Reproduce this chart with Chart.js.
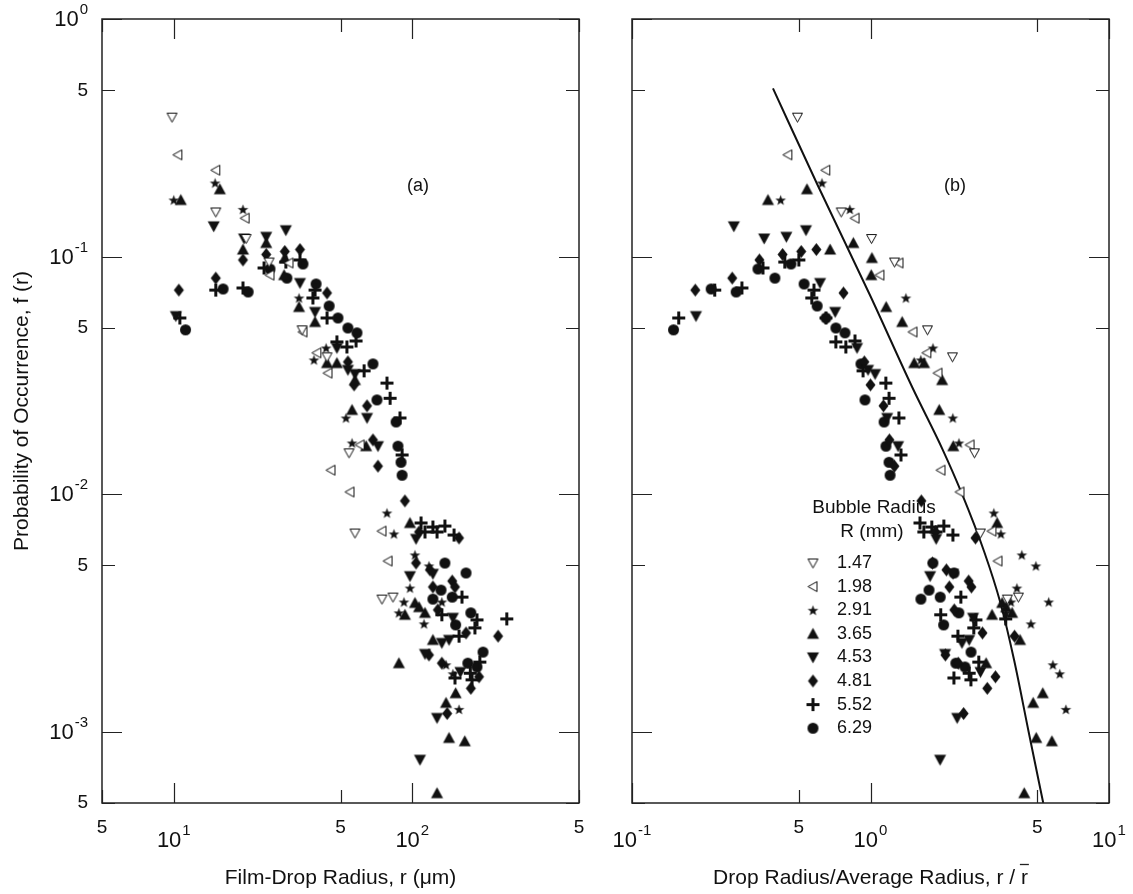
<!DOCTYPE html>
<html>
<head>
<meta charset="utf-8">
<script src="https://cdn.jsdelivr.net/npm/chart.js@4.4.1/dist/chart.umd.min.js"></script>
<style>
  body { margin: 0; background: #fff; }
  #wrap { position: relative; width: 1133px; height: 894px; }
  canvas { position: absolute; top: 0; }
</style>
</head>
<body>
<div id="wrap">
  <canvas id="chartA" width="600" height="894" style="left:0"></canvas>
  <canvas id="chartB" width="533" height="894" style="left:600px"></canvas>
</div>
<script>
// Bubble radii (mm) for the legend
const bubbleLabels = ['1.47', '1.98', '2.91', '3.65', '4.53', '4.81', '5.52', '6.29'];

// Film-drop radius r (um) and probability f(r), one pair per bubble radius
const r147 = [9.83, 15.0, 20.1, 25.1, 34.5, 43.9, 54.3, 57.5, 74.6, 83.0];
const f147 = [0.386, 0.154, 0.119, 0.0948, 0.0491, 0.0378, 0.0149, 0.00685, 0.00361, 0.00368];

const r198 = [10.4, 15.0, 19.9, 25.3, 30.4, 34.8, 39.8, 44.3, 60.4, 45.6, 54.8, 74.6, 79.1];
const f198 = [0.268, 0.231, 0.145, 0.0835, 0.0939, 0.0481, 0.0393, 0.0323, 0.0161, 0.0126, 0.0102, 0.00698, 0.00522];

const r291 = [10.0, 14.9, 19.5, 33.5, 38.7, 43.5, 52.7, 55.9, 78.3, 83.8, 102.6, 117.5, 97.8, 133, 92.3, 87.9, 112, 138.5, 148, 157];
const f291 = [0.173, 0.204, 0.158, 0.0669, 0.0367, 0.0412, 0.0209, 0.0164, 0.00832, 0.00679, 0.00554, 0.00498, 0.00402, 0.00351, 0.00351, 0.00316, 0.00284, 0.00191, 0.00175, 0.00124];

const r365 = [10.7, 15.6, 19.5, 24.4, 29.2, 29.0, 33.5, 39.1, 43.9, 48.3, 57.5, 55.9, 64.0, 97.8, 102.6, 106.7, 113, 93.1, 122, 87.9, 152, 138.5, 142.6, 166, 127];
const f365 = [0.173, 0.192, 0.107, 0.114, 0.0986, 0.0835, 0.0613, 0.0530, 0.0356, 0.0356, 0.0302, 0.0226, 0.0159, 0.00755, 0.00348, 0.00334, 0.00316, 0.00310, 0.00243, 0.00194, 0.00145, 0.00132, 0.00094, 0.00091, 0.00055];

const r453 = [10.2, 14.7, 19.7, 24.4, 29.5, 33.8, 39.1, 48.3, 53.7, 57.5, 64.6, 71.8, 103.7, 122, 97.8, 148, 133, 142.6, 113, 159, 127, 107.7];
const f453 = [0.0561, 0.134, 0.119, 0.121, 0.129, 0.0773, 0.0584, 0.0412, 0.0333, 0.0320, 0.0209, 0.0159, 0.00647, 0.00461, 0.00451, 0.00301, 0.00236, 0.00243, 0.00212, 0.00178, 0.00114, 0.00076];

const r481 = [10.5, 15.0, 19.5, 24.4, 29.2, 33.8, 43.9, 53.7, 57.0, 64.6, 68.4, 71.8, 93.1, 106.7, 157, 103.7, 118.6, 147, 151, 122, 128, 168, 229, 117.5, 133, 190.5, 176, 140];
const f481 = [0.0722, 0.0811, 0.0967, 0.102, 0.105, 0.107, 0.0702, 0.0360, 0.0288, 0.0235, 0.0169, 0.0131, 0.00935, 0.00692, 0.00653, 0.00512, 0.00479, 0.00430, 0.00406, 0.00406, 0.00325, 0.00260, 0.00252, 0.00210, 0.00194, 0.00170, 0.00152, 0.00119];

const r552 = [10.6, 15.0, 19.5, 23.9, 29.5, 33.8, 39.1, 38.3, 43.9, 48.3, 53.2, 58.1, 62.8, 78.3, 80.7, 88.8, 90.6, 108.8, 122, 137, 113, 127, 149.6, 161.5, 133, 186.7, 249, 183, 157, 192, 175, 151, 178];
const f552 = [0.0551, 0.0722, 0.0737, 0.0895, 0.0948, 0.0967, 0.0722, 0.0669, 0.0551, 0.0437, 0.0416, 0.0441, 0.0330, 0.0293, 0.0253, 0.0209, 0.0146, 0.00755, 0.00726, 0.00733, 0.00692, 0.00692, 0.00672, 0.00368, 0.00310, 0.00295, 0.00298, 0.00273, 0.00252, 0.00196, 0.00176, 0.00168, 0.00165];

const r629 = [11.2, 16.1, 20.5, 25.3, 29.8, 34.8, 39.5, 44.8, 48.8, 53.7, 58.6, 68.4, 71.1, 85.5, 87.1, 89.7, 90.6, 137, 168, 132, 147, 122, 176, 152, 198, 171, 186.7];
const f629 = [0.0491, 0.0730, 0.0709, 0.0886, 0.0811, 0.0930, 0.0766, 0.0619, 0.0551, 0.0500, 0.0477, 0.0353, 0.0249, 0.0201, 0.0159, 0.0136, 0.0120, 0.00512, 0.00465, 0.00394, 0.00368, 0.00361, 0.00316, 0.00281, 0.00216, 0.00194, 0.00187];

// average drop radius (um) of each bubble, read by matching panel (b) to panel (a)
const avgRadius = [19.9, 23.1, 23.8, 28.8, 55, 57, 67.5, 75];

// fitted curve in panel (b)
const curveX = [0.39, 0.6, 1.0, 1.5, 2.0, 2.4, 3.0, 3.5, 4.0, 4.6, 5.3];
const curveY = [0.51, 0.20, 0.068, 0.028, 0.0155, 0.0102, 0.0057, 0.0035, 0.0020, 0.0010, 0.0005];

// tick labels
const yTickVals = [1, 0.5, 0.1, 0.05, 0.01, 0.005, 0.001, 0.0005];
const yTickText = [['10', '0'], ['5', ''], ['10', '-1'], ['5', ''], ['10', '-2'], ['5', ''], ['10', '-3'], ['5', '']];
const xTickValsA = [5, 10, 50, 100, 500];
const xTickTextA = [['5', ''], ['10', '1'], ['5', ''], ['10', '2'], ['5', '']];
const xTickValsB = [0.1, 0.5, 1, 5, 10];
const xTickTextB = [['10', '-1'], ['5', ''], ['10', '0'], ['5', ''], ['10', '1']];

const radii = [r147, r198, r291, r365, r453, r481, r552, r629];
const probs = [f147, f198, f291, f365, f453, f481, f552, f629];

const FONT = '"Liberation Sans", Arial, sans-serif';
const INK = '#111';

// marker drawings
function makeMarker(draw, off) {
  const c = document.createElement('canvas');
  c.width = 17; c.height = 17;
  const g = c.getContext('2d');
  g.translate(off, off);
  g.fillStyle = INK; g.strokeStyle = INK;
  draw(g);
  return c;
}
function poly(g, pts) {
  g.beginPath();
  g.moveTo(pts[0][0], pts[0][1]);
  for (let i = 1; i < pts.length; i++) g.lineTo(pts[i][0], pts[i][1]);
  g.closePath();
}
const markers = [
  makeMarker(g => { poly(g, [[-5, -4], [5, -4], [0, 5]]); g.fillStyle = '#fff'; g.fill(); g.lineWidth = 1; g.stroke(); }, 8.5),
  makeMarker(g => { poly(g, [[-5, 0], [4, -5], [4, 5]]); g.fillStyle = '#fff'; g.fill(); g.lineWidth = 1; g.stroke(); }, 8.5),
  makeMarker(g => {
    const pts = [];
    for (let i = 0; i < 10; i++) {
      const a = -Math.PI / 2 + i * Math.PI / 5;
      const rr = i % 2 ? 2.3 : 5.6;
      pts.push([rr * Math.cos(a), rr * Math.sin(a) + 0.5]);
    }
    poly(g, pts); g.fill();
  }, 8.5),
  makeMarker(g => { poly(g, [[0, -6], [6, 5], [-6, 5]]); g.fill(); }, 8.5),
  makeMarker(g => { poly(g, [[-6, -5], [6, -5], [0, 6]]); g.fill(); }, 8.5),
  makeMarker(g => { poly(g, [[0, -6.5], [5, 0], [0, 6.5], [-5, 0]]); g.fill(); }, 8.5),
  makeMarker(g => { g.fillRect(-6.5, -1.5, 13, 3); g.fillRect(-1.5, -6.5, 3, 13); }, 8.5),
  makeMarker(g => { g.beginPath(); g.arc(0, 0, 5.5, 0, Math.PI * 2); g.fill(); }, 8.5)
];

function drawLabel(ctx, base, sup, x, y, align, big) {
  const bf = (big ? 22 : 19) + 'px ' + FONT;
  const sf = '15px ' + FONT;
  ctx.font = bf;
  const wb = ctx.measureText(base).width;
  ctx.font = sf;
  const ws = sup ? ctx.measureText(sup).width + 1 : 0;
  const total = wb + ws;
  let left = align === 'right' ? x - total : x - total / 2;
  ctx.textBaseline = 'middle';
  ctx.textAlign = 'left';
  ctx.font = bf;
  ctx.fillText(base, left, y);
  if (sup) {
    ctx.font = sf;
    ctx.fillText(sup, left + wb + 1, y - 10);
  }
}

function framePlugin(opts) {
  return {
    id: 'frame' + opts.name,
    afterDraw(chart) {
      const { ctx, chartArea: a } = chart;
      const xs = chart.scales.x, ys = chart.scales.y;
      ctx.save();
      ctx.fillStyle = INK;
      ctx.strokeStyle = '#222';
      ctx.lineWidth = 1.5;
      ctx.strokeRect(a.left, a.top, a.right - a.left, a.bottom - a.top);
      ctx.lineWidth = 1.2;
      ctx.beginPath();
      yTickVals.forEach((v, i) => {
        const py = Math.round(ys.getPixelForValue(v)) + 0.5;
        const len = yTickText[i][1] ? 20 : 13;
        ctx.moveTo(a.left, py); ctx.lineTo(a.left + len, py);
        ctx.moveTo(a.right, py); ctx.lineTo(a.right - len, py);
      });
      opts.xVals.forEach((v, i) => {
        const px = Math.round(xs.getPixelForValue(v)) + 0.5;
        const len = opts.xText[i][1] ? 20 : 13;
        ctx.moveTo(px, a.bottom); ctx.lineTo(px, a.bottom - len);
        ctx.moveTo(px, a.top); ctx.lineTo(px, a.top + len);
      });
      ctx.stroke();

      if (opts.yLabels) {
        yTickVals.forEach((v, i) => {
          const py = ys.getPixelForValue(v);
          const t = yTickText[i];
          drawLabel(ctx, t[0], t[1], a.left - 14, py + (t[1] ? 1 : 0), 'right', !!t[1]);
        });
        ctx.save();
        ctx.translate(22, (a.top + a.bottom) / 2);
        ctx.rotate(-Math.PI / 2);
        ctx.font = '21px ' + FONT;
        ctx.textAlign = 'center';
        ctx.textBaseline = 'middle';
        ctx.fillText('Probability of Occurrence, f (r)', 0, 0);
        ctx.restore();
      }
      opts.xVals.forEach((v, i) => {
        const px = xs.getPixelForValue(v);
        const t = opts.xText[i];
        drawLabel(ctx, t[0], t[1], px, t[1] ? 841 : 828, 'center', !!t[1]);
      });

      // axis title
      const cx = (a.left + a.right) / 2;
      ctx.font = '21px ' + FONT;
      ctx.textAlign = 'center';
      ctx.textBaseline = 'middle';
      ctx.fillText(opts.title, cx, 878);
      if (opts.overline) {
        const w = ctx.measureText(opts.title).width;
        const wr = ctx.measureText('r').width;
        const end = cx + w / 2;
        ctx.lineWidth = 1.3;
        ctx.beginPath();
        ctx.moveTo(end - wr - 1, 864.5); ctx.lineTo(end + 1, 864.5);
        ctx.stroke();
      }

      // panel tag
      ctx.font = '18px ' + FONT;
      ctx.fillText(opts.tag, opts.tagX, 186);

      if (opts.legend) {
        ctx.font = '19px ' + FONT;
        ctx.textAlign = 'center';
        ctx.fillText('Bubble Radius', 274, 508);
        ctx.fillText('R (mm)', 272, 532);
        ctx.font = '18px ' + FONT;
        ctx.textAlign = 'left';
        bubbleLabels.forEach((lab, i) => {
          const ly = 563 + i * 23.6;
          ctx.drawImage(markers[i], 213 - 8.5, ly - 8.5);
          ctx.fillText(lab, 237, ly);
        });
      }
      ctx.restore();
    }
  };
}

function baseOptions(padding, xMin, xMax) {
  return {
    responsive: false,
    animation: false,
    layout: { padding },
    plugins: { legend: { display: false }, tooltip: { enabled: false } },
    scales: {
      x: { type: 'logarithmic', min: xMin, max: xMax, display: false },
      y: { type: 'logarithmic', min: 0.0005, max: 1, display: false }
    }
  };
}

function seriesSets(scaleBy) {
  return radii.map((rs, k) => ({
    label: bubbleLabels[k],
    data: rs.map((v, i) => ({ x: scaleBy ? v / avgRadius[k] : v, y: probs[k][i] })),
    pointStyle: markers[k],
    showLine: false
  }));
}

new Chart(document.getElementById('chartA'), {
  type: 'scatter',
  data: { datasets: seriesSets(false) },
  options: baseOptions({ left: 102, right: 21, top: 19, bottom: 91 }, 5, 500),
  plugins: [framePlugin({
    name: 'A', xVals: xTickValsA, xText: xTickTextA, yLabels: true,
    title: 'Film-Drop Radius, r (\u03bcm)', tag: '(a)', tagX: 418
  })]
});

const setsB = seriesSets(true);
setsB.push({
  label: 'fit',
  data: curveX.map((v, i) => ({ x: v, y: curveY[i] })),
  showLine: true,
  pointRadius: 0,
  borderColor: INK,
  borderWidth: 2,
  cubicInterpolationMode: 'monotone'
});
new Chart(document.getElementById('chartB'), {
  type: 'scatter',
  data: { datasets: setsB },
  options: baseOptions({ left: 32, right: 24, top: 19, bottom: 91 }, 0.1, 10),
  plugins: [framePlugin({
    name: 'B', xVals: xTickValsB, xText: xTickTextB, yLabels: false,
    title: 'Drop Radius/Average Radius, r / r', overline: true, tag: '(b)', tagX: 355,
    legend: true
  })]
});
</script>
</body>
</html>
